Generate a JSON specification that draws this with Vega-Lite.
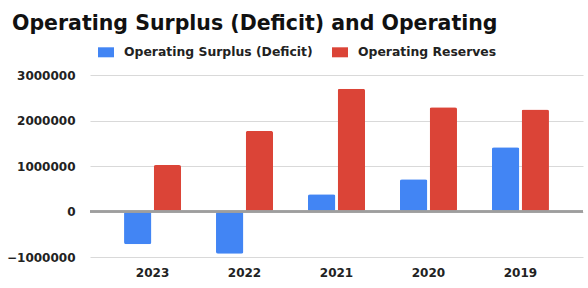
{
  "$schema": "https://vega.github.io/schema/vega-lite/v6.json",
  "width": 493,
  "height": 182,
  "autosize": "none",
  "padding": {"left": 90, "top": 75, "right": 5, "bottom": 31},
  "background": "white",
  "title": {
    "text": "Operating Surplus (Deficit) and Operating",
    "anchor": "start",
    "frame": "group",
    "dx": -78,
    "offset": 10,
    "font": "DejaVu Sans",
    "fontSize": 20.5,
    "fontWeight": "bold",
    "color": "#111111"
  },
  "data": {
    "values": [
      {"year": "2023", "series": "Operating Surplus (Deficit)", "value": -720000},
      {"year": "2023", "series": "Operating Reserves", "value": 1020000},
      {"year": "2022", "series": "Operating Surplus (Deficit)", "value": -930000},
      {"year": "2022", "series": "Operating Reserves", "value": 1770000},
      {"year": "2021", "series": "Operating Surplus (Deficit)", "value": 380000},
      {"year": "2021", "series": "Operating Reserves", "value": 2700000},
      {"year": "2020", "series": "Operating Surplus (Deficit)", "value": 710000},
      {"year": "2020", "series": "Operating Reserves", "value": 2290000},
      {"year": "2019", "series": "Operating Surplus (Deficit)", "value": 1410000},
      {"year": "2019", "series": "Operating Reserves", "value": 2240000}
    ]
  },
  "layer": [
    {
      "mark": {"type": "bar", "cornerRadius": 2},
      "encoding": {
        "x": {
          "field": "year",
          "type": "nominal",
          "sort": ["2023", "2022", "2021", "2020", "2019"],
          "scale": {"paddingInner": 0.38, "paddingOuter": 0.37},
          "axis": {
            "title": null,
            "labelAngle": 0,
            "domain": false,
            "ticks": false,
            "labelFont": "DejaVu Sans",
            "labelFontSize": 12,
            "labelFontWeight": "bold",
            "labelColor": "#222222",
            "labelPadding": 10
          }
        },
        "xOffset": {
          "field": "series",
          "type": "nominal",
          "sort": ["Operating Surplus (Deficit)", "Operating Reserves"],
          "scale": {"paddingInner": 0.08}
        },
        "y": {
          "field": "value",
          "type": "quantitative",
          "scale": {"domain": [-1000000, 3000000], "nice": false},
          "axis": {
            "title": null,
            "values": [-1000000, 0, 1000000, 2000000, 3000000],
            "format": "d",
            "domain": false,
            "ticks": false,
            "gridColor": "#d9d9d9",
            "labelFont": "DejaVu Sans",
            "labelFontSize": 12,
            "labelFontWeight": "bold",
            "labelColor": "#222222",
            "labelPadding": 15
          }
        },
        "color": {
          "field": "series",
          "type": "nominal",
          "scale": {
            "domain": ["Operating Surplus (Deficit)", "Operating Reserves"],
            "range": ["#4285F4", "#DB4437"]
          },
          "legend": {
            "orient": "none",
            "legendX": 8,
            "legendY": -31,
            "direction": "horizontal",
            "title": null,
            "symbolType": "M-1,-0.625L1,-0.625L1,0.625L-1,0.625Z",
            "symbolSize": 256,
            "symbolStrokeWidth": 0,
            "labelFont": "DejaVu Sans",
            "labelFontSize": 12.4,
            "labelFontWeight": "bold",
            "labelColor": "#222222",
            "labelLimit": 400,
            "labelOffset": 10,
            "columnPadding": 19
          }
        }
      }
    },
    {
      "mark": {"type": "rule", "color": "#9e9e9e", "strokeWidth": 1.5},
      "encoding": {"y": {"datum": 0}}
    }
  ],
  "config": {"view": {"stroke": null}}
}
